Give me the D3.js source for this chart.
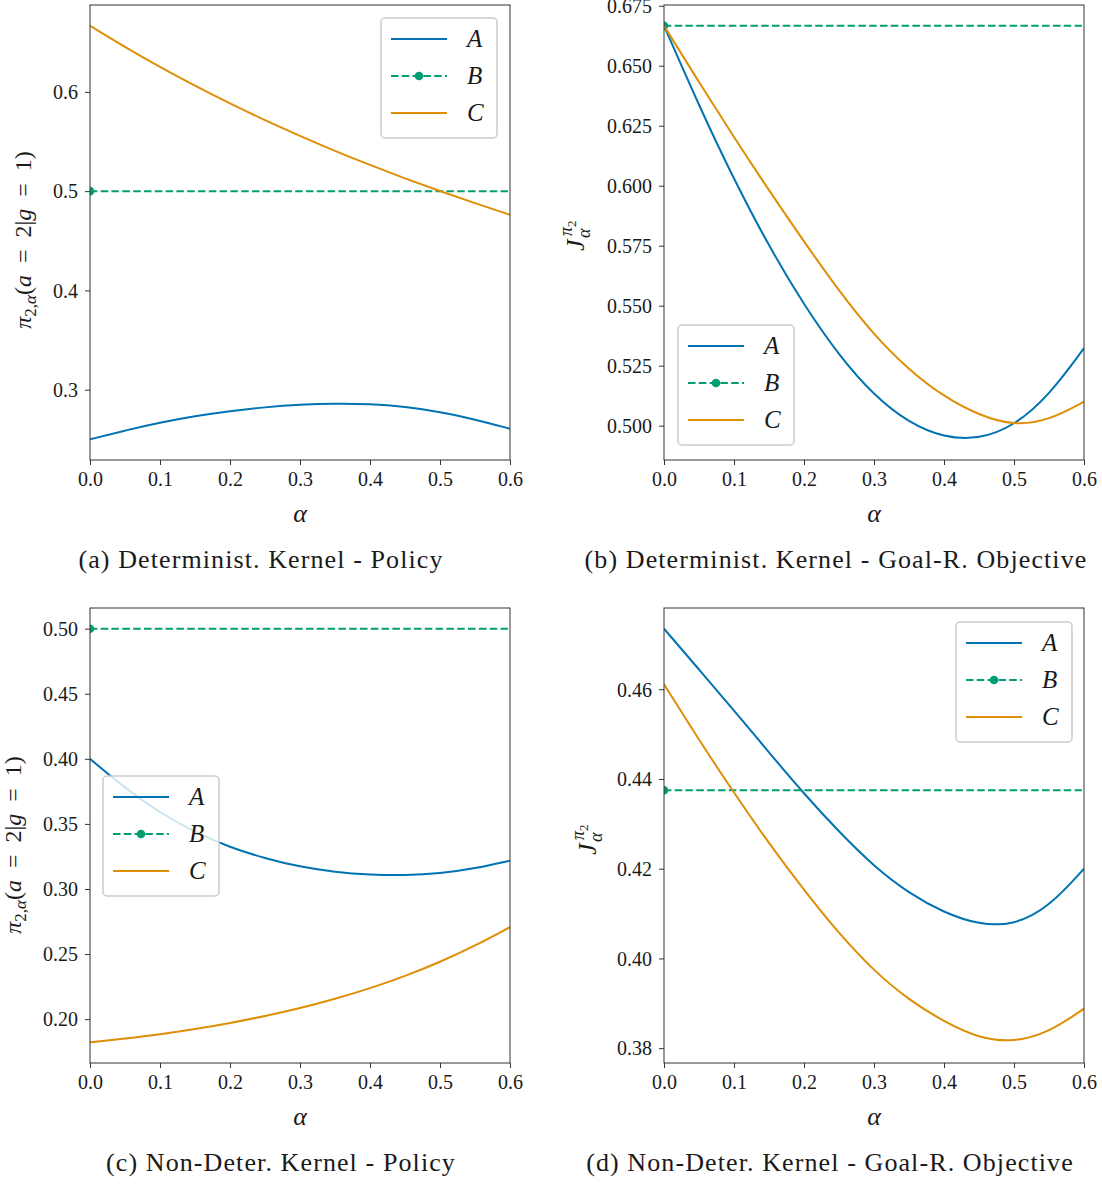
<!DOCTYPE html>
<html>
<head>
<meta charset="utf-8">
<script src="https://cdn.jsdelivr.net/npm/d3@7"></script>
<style>
  body { margin: 0; background: #fff; }
  text { font-family: "Liberation Serif", "DejaVu Serif", serif; fill: #1a1a1a; }
</style>
</head>
<body>
<div class="canvas"></div>
<script>
// data
const alphaSteps = [0, 0.05, 0.1, 0.15, 0.2, 0.25, 0.3, 0.35, 0.4, 0.45, 0.5, 0.55, 0.6]
const seriesNames = ["A", "B", "C"]

// (a) determinist kernel - policy
const detPolicyA = [0.250, 0.2589, 0.2669, 0.2734, 0.2785, 0.2824, 0.2850, 0.2860, 0.2856, 0.2830, 0.2778, 0.2700, 0.2607]
const detPolicyB = [0.5, 0.5, 0.5, 0.5, 0.5, 0.5, 0.5, 0.5, 0.5, 0.5, 0.5, 0.5, 0.5]
const detPolicyC = [0.6667, 0.6452, 0.625, 0.6061, 0.5882, 0.5714, 0.5556, 0.5405, 0.5263, 0.5128, 0.5, 0.4878, 0.4762]

// (b) determinist kernel - goal-r objective
const detObjA = [0.6667, 0.6333, 0.6025, 0.5747, 0.5502, 0.5292, 0.5125, 0.5011, 0.4950, 0.4943, 0.4998, 0.5125, 0.5323]
const detObjB = [0.6667, 0.6667, 0.6667, 0.6667, 0.6667, 0.6667, 0.6667, 0.6667, 0.6667, 0.6667, 0.6667, 0.6667, 0.6667]
const detObjC = [0.6667, 0.6431, 0.6202, 0.5980, 0.5767, 0.5561, 0.5377, 0.5232, 0.5120, 0.5043, 0.5000, 0.5022, 0.5100]

// (c) non-deter kernel - policy
const ndPolicyA = [0.400, 0.3775, 0.3585, 0.3435, 0.332, 0.3235, 0.317, 0.313, 0.3109, 0.3104, 0.3119, 0.3157, 0.3218]
const ndPolicyB = [0.5, 0.5, 0.5, 0.5, 0.5, 0.5, 0.5, 0.5, 0.5, 0.5, 0.5, 0.5, 0.5]
const ndPolicyC = [0.1822, 0.1851, 0.1883, 0.1923, 0.1970, 0.2023, 0.2084, 0.2155, 0.2236, 0.2330, 0.2438, 0.2563, 0.2707]

// (d) non-deter kernel - goal-r objective
const ndObjA = [0.4735, 0.4644, 0.4553, 0.4459, 0.4367, 0.4282, 0.4205, 0.4145, 0.4102, 0.4075, 0.4074, 0.4114, 0.4200]
const ndObjB = [0.4375, 0.4375, 0.4375, 0.4375, 0.4375, 0.4375, 0.4375, 0.4375, 0.4375, 0.4375, 0.4375, 0.4375, 0.4375]
const ndObjC = [0.4611, 0.4487, 0.4369, 0.4256, 0.4152, 0.4055, 0.3972, 0.3907, 0.3859, 0.3822, 0.3813, 0.3835, 0.3888]

// ticks
const xTicks = [0, 0.1, 0.2, 0.3, 0.4, 0.5, 0.6]
const yTicksDetPolicy = [0.3, 0.4, 0.5, 0.6]
const yTicksDetObj = [0.5, 0.525, 0.55, 0.575, 0.6, 0.625, 0.65, 0.675]
const yTicksNdPolicy = [0.2, 0.25, 0.3, 0.35, 0.4, 0.45, 0.5]
const yTicksNdObj = [0.38, 0.4, 0.42, 0.44, 0.46]

const captions = [
    "(a) Determinist. Kernel - Policy",
    "(b) Determinist. Kernel - Goal-R. Objective",
    "(c) Non-Deter. Kernel - Policy",
    "(d) Non-Deter. Kernel - Goal-R. Objective"
]

// settings
const svgWidth = 1102
const svgHeight = 1184
const colors = {A: "#0173b2", B: "#029e73", C: "#de8f05"}
const plotW = 420, plotH = 455
const lineWidth = 2
const dash = "7.5,3.3"

const panels = [
    {id: "a", left: 90, top: 5, series: [detPolicyA, detPolicyB, detPolicyC], ticks: yTicksDetPolicy, fmt: ".1f",
     ylabel: "policy", ylabelPos: [31, 240], legend: {x: 381, y: 18}, captionX: 261},
    {id: "b", left: 664, top: 5, series: [detObjA, detObjB, detObjC], ticks: yTicksDetObj, fmt: ".3f",
     ylabel: "objective", ylabelPos: [584, 233], legend: {x: 678, y: 325}, captionX: 836},
    {id: "c", left: 90, top: 608, series: [ndPolicyA, ndPolicyB, ndPolicyC], ticks: yTicksNdPolicy, fmt: ".2f",
     ylabel: "policy", ylabelPos: [21, 845], legend: {x: 103, y: 776}, captionX: 281},
    {id: "d", left: 664, top: 608, series: [ndObjA, ndObjB, ndObjC], ticks: yTicksNdObj, fmt: ".2f",
     ylabel: "objective", ylabelPos: [596, 837], legend: {x: 956, y: 622}, captionX: 830}
]

const svg = d3.select(".canvas")
    .append("svg")
    .attr("width", svgWidth)
    .attr("height", svgHeight)

const defs = svg.append("defs")

function policyLabel(g, x, y) {
    const t = g.append("text")
        .attr("transform", `translate(${x},${y}) rotate(-90)`)
        .attr("text-anchor", "middle")
        .attr("font-size", 24)
    t.append("tspan").attr("font-style", "italic").text("π")
    t.append("tspan").attr("font-size", 17).attr("dy", 5).text("2,")
    t.append("tspan").attr("font-size", 17).attr("font-style", "italic").text("α")
    t.append("tspan").attr("dy", -5).text("(")
    t.append("tspan").attr("font-style", "italic").text("a")
    t.append("tspan").text("\u2002=\u20022|")
    t.append("tspan").attr("font-style", "italic").text("g")
    t.append("tspan").text("\u2002=\u20021)")
}

function objectiveLabel(g, x, y) {
    const lab = g.append("g").attr("transform", `translate(${x},${y}) rotate(-90)`)
    lab.append("text").attr("x", -18).attr("y", 0).attr("font-size", 26).attr("font-style", "italic").text("J")
    lab.append("text").attr("x", -5).attr("y", 6).attr("font-size", 18).attr("font-style", "italic").text("α")
    const sup = lab.append("text").attr("x", -3).attr("y", -12).attr("font-size", 18)
    sup.append("tspan").attr("font-style", "italic").text("π")
    sup.append("tspan").attr("font-size", 13).attr("dy", 4).text("2")
}

panels.forEach((p, pi) => {
    const all = p.series.flat()
    const lo = d3.min(all), hi = d3.max(all)
    const pad = (hi - lo) * 0.05

    const x = d3.scaleLinear().domain([0, 0.6]).range([0, plotW])
    const y = d3.scaleLinear().domain([lo - pad, hi + pad]).range([plotH, 0])

    const graph = svg.append("g").attr("transform", `translate(${p.left}, ${p.top})`)

    defs.append("clipPath").attr("id", "clip-" + p.id)
        .append("rect").attr("width", plotW).attr("height", plotH)

    const plot = graph.append("g").attr("clip-path", `url(#clip-${p.id})`)

    const line = d3.line()
        .x((d, i) => x(alphaSteps[i]))
        .y(d => y(d))
        .curve(d3.curveBasis)

    p.series.forEach((vals, k) => {
        const name = seriesNames[k]
        plot.append("path")
            .datum(vals)
            .attr("d", line)
            .attr("fill", "none")
            .attr("stroke", colors[name])
            .attr("stroke-width", lineWidth)
            .attr("stroke-dasharray", name === "B" ? dash : null)
        if (name === "B") {
            plot.append("circle")
                .attr("cx", x(alphaSteps[0]))
                .attr("cy", y(vals[0]))
                .attr("r", 4.3)
                .attr("fill", colors.B)
        }
    })

    // axes
    const xAxis = graph.append("g")
        .attr("transform", `translate(0, ${plotH})`)
        .call(d3.axisBottom(x).tickValues(xTicks).tickFormat(d3.format(".1f")).tickSize(5).tickSizeOuter(0))
    const yAxis = graph.append("g")
        .call(d3.axisLeft(y).tickValues(p.ticks).tickFormat(d3.format(p.fmt)).tickSize(5).tickSizeOuter(0))

    ;[xAxis, yAxis].forEach(ax => {
        ax.select(".domain").remove()
        ax.selectAll(".tick line").attr("stroke", "#333").attr("stroke-width", 1)
        ax.selectAll(".tick text").attr("font-size", 20).attr("fill", "#262626")
            .style("font-family", "'Liberation Serif', serif")
    })
    xAxis.selectAll(".tick text").attr("y", 12)
    yAxis.selectAll(".tick text").attr("x", -12).attr("dy", "0.34em")

    // frame
    graph.append("rect")
        .attr("width", plotW).attr("height", plotH)
        .attr("fill", "none").attr("stroke", "#333").attr("stroke-width", 1)

    // legend
    const lg = svg.append("g").attr("transform", `translate(${p.legend.x}, ${p.legend.y})`)
    lg.append("rect")
        .attr("width", 116).attr("height", 120).attr("rx", 4)
        .attr("fill", "white").attr("fill-opacity", 0.8)
        .attr("stroke", "#cccccc").attr("stroke-width", 1.5)
    seriesNames.forEach((name, k) => {
        const ly = 21 + k * 37
        lg.append("line")
            .attr("x1", 10).attr("x2", 66).attr("y1", ly).attr("y2", ly)
            .attr("stroke", colors[name]).attr("stroke-width", lineWidth)
            .attr("stroke-dasharray", name === "B" ? dash : null)
        if (name === "B") {
            lg.append("circle").attr("cx", 38).attr("cy", ly).attr("r", 4.3).attr("fill", colors.B)
        }
        lg.append("text")
            .attr("x", 86).attr("y", ly + 8)
            .attr("font-size", 25).attr("font-style", "italic")
            .text(name)
    })

    // x label
    svg.append("text")
        .attr("x", p.left + plotW / 2).attr("y", p.top + plotH + 62)
        .attr("text-anchor", "middle")
        .attr("font-size", 26).attr("font-style", "italic")
        .text("α")

    // y label
    if (p.ylabel === "policy") policyLabel(svg, p.ylabelPos[0], p.ylabelPos[1])
    else objectiveLabel(svg, p.ylabelPos[0], p.ylabelPos[1])

    // caption
    svg.append("text")
        .attr("x", p.captionX).attr("y", p.top + plotH + 108)
        .attr("text-anchor", "middle")
        .attr("font-size", 26)
        .attr("letter-spacing", 1.1)
        .text(captions[pi])
})
</script>
</body>
</html>
